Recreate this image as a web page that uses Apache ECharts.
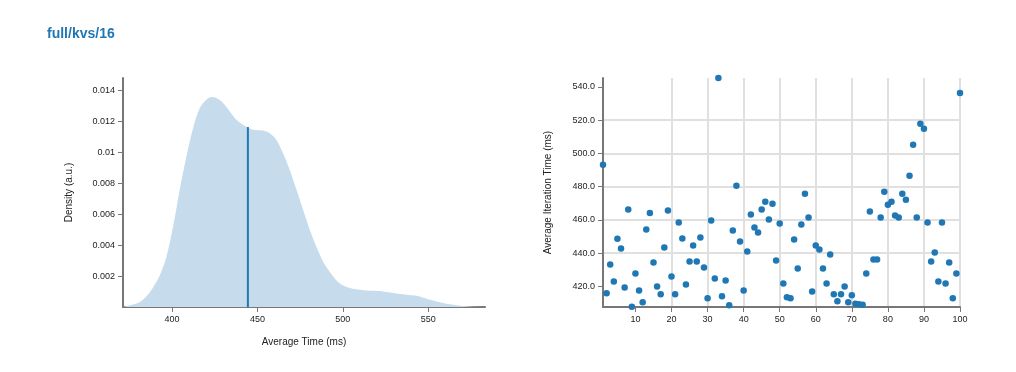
<!DOCTYPE html>
<html>
<head>
<meta charset="utf-8">
<script src="https://cdn.jsdelivr.net/npm/echarts@6/dist/echarts.min.js"></script>
<style>
html,body{margin:0;padding:0;background:#fff;}
#chart{width:1016px;height:372px;}
</style>
</head>
<body>
<div id="chart"></div>
<script>
// ---- Data ----
const titleText = 'full/kvs/16';

// Density curve (x: average time in ms, y: density)
const densityX = [372, 381, 387, 392.8, 396.7, 400.6, 404.5, 408.4, 412.3, 416.2, 420.1, 423, 426, 429.9, 433.8, 437.7, 441.6, 444.3, 447.5, 453.3, 457.2, 461.1, 465, 468.9, 472.9, 476.8, 480.7, 484.6, 488.5, 492.4, 496.3, 500.2, 506, 513.9, 521.7, 529.5, 537.3, 543.2, 549, 554.9, 560.7, 568.6, 576.4, 583.2];
const densityY = [0.00003, 0.00031, 0.00096, 0.00204, 0.00323, 0.00518, 0.00756, 0.00972, 0.01156, 0.01285, 0.01339, 0.01357, 0.0135, 0.01318, 0.01264, 0.0121, 0.01177, 0.01162, 0.01145, 0.0114, 0.01123, 0.0108, 0.00993, 0.00885, 0.00756, 0.00626, 0.00496, 0.00388, 0.00291, 0.00226, 0.00172, 0.00139, 0.00118, 0.00107, 0.00103, 0.0009, 0.00079, 0.00072, 0.00053, 0.00036, 0.00021, 0.00008, 0.00002, 0.00001];
const meanTime = 444.4;
const meanDensity = 0.01163;
const densityXRange = [371.3, 583.2];
const densityYRange = [0, 0.0148];
const densityXTicks = [400, 450, 500, 550];
const densityYTicks = [0.002, 0.004, 0.006, 0.008, 0.01, 0.012, 0.014];

// Scatter: iteration index vs average iteration time (ms)
const iterations = Array.from({length: 100}, (_, i) => i + 1);
const iterTimes = [
  493.2, 415.8, 433.2, 423.0, 448.6, 442.8, 419.4, 466.2, 407.8, 427.8,
  417.6, 410.4, 454.2, 464.2, 434.4, 420.0, 415.2, 443.4, 465.6, 426.0,
  415.2, 458.4, 448.8, 421.2, 435.0, 444.6, 435.0, 449.4, 431.4, 412.8,
  459.6, 424.8, 545.4, 414.0, 423.6, 408.6, 453.6, 480.6, 447.0, 417.6,
  441.0, 463.2, 455.4, 452.4, 466.2, 471.0, 460.2, 469.8, 435.6, 457.8,
  421.8, 413.4, 412.8, 448.2, 430.8, 457.2, 475.8, 461.4, 417.0, 444.6,
  442.2, 430.8, 421.8, 439.2, 415.2, 411.0, 415.2, 420.0, 410.4, 414.6,
  409.6, 409.2, 409.0, 427.8, 465.0, 436.2, 436.2, 461.4, 477.0, 469.2,
  471.0, 462.6, 461.4, 475.8, 472.2, 486.6, 505.2, 461.4, 517.8, 514.8,
  458.4, 435.0, 440.4, 423.0, 458.4, 421.8, 434.4, 412.8, 427.8, 536.4
];
const scatterXTicks = [10, 20, 30, 40, 50, 60, 70, 80, 90, 100];
const scatterYTicks = [420, 440, 460, 480, 500, 520, 540];

// ---- Build ----
const densityData = densityX.map((x, i) => [x, densityY[i]]);
const meanData = [[meanTime, 0], [meanTime, meanDensity]];
const scatterData = iterations.map((x, i) => [x, iterTimes[i]]);
const yMin = Math.min(...iterTimes) - 0.2;
const yMax = Math.max(...iterTimes);

const FONT = 'Liberation Sans, Arial, Helvetica, sans-serif';
const AXIS_COLOR = '#777';
const LABEL_COLOR = '#222';

function axisBase() {
  return {
    axisLine: {show: true, onZero: false, lineStyle: {color: AXIS_COLOR, width: 2}},
    axisTick: {show: true, length: 5, lineStyle: {color: AXIS_COLOR, width: 1}},
    axisLabel: {color: LABEL_COLOR, fontSize: 9, fontFamily: FONT, margin: 7},
    nameTextStyle: {color: LABEL_COLOR, fontSize: 10, fontFamily: FONT}
  };
}

const chart = echarts.init(document.getElementById('chart'), null, {renderer: 'canvas'});
chart.setOption({
  animation: false,
  backgroundColor: '#fff',
  title: {
    text: titleText, left: 42, top: 22,
    textStyle: {color: '#1f78b4', fontSize: 14, fontWeight: 'bold', fontFamily: FONT}
  },
  grid: [
    {left: 123, right: 531, top: 78, bottom: 65},
    {left: 603, right: 56, top: 78, bottom: 65}
  ],
  xAxis: [
    Object.assign(axisBase(), {
      gridIndex: 0, type: 'value', min: densityXRange[0], max: densityXRange[1],
      name: 'Average Time (ms)', nameLocation: 'middle', nameGap: 30,
      splitLine: {show: false},
      axisTick: {show: true, length: 5, customValues: densityXTicks, lineStyle: {color: AXIS_COLOR, width: 1}},
      axisLabel: {color: LABEL_COLOR, fontSize: 9, fontFamily: FONT, margin: 8, customValues: densityXTicks}
    }),
    Object.assign(axisBase(), {
      gridIndex: 1, type: 'value', min: 1, max: 100, splitNumber: 10,
      splitLine: {show: true, showMinLine: false, showMaxLine: true, lineStyle: {color: '#e0e0e0', width: 2}},
      axisTick: {show: true, length: 5, customValues: scatterXTicks, lineStyle: {color: AXIS_COLOR, width: 1}},
      axisLabel: {color: LABEL_COLOR, fontSize: 9, fontFamily: FONT, margin: 8, customValues: scatterXTicks}
    })
  ],
  yAxis: [
    Object.assign(axisBase(), {
      gridIndex: 0, type: 'value', min: densityYRange[0], max: densityYRange[1],
      name: 'Density (a.u.)', nameLocation: 'middle', nameGap: 49, nameRotate: 90,
      splitLine: {show: false},
      axisTick: {show: true, length: 5, customValues: densityYTicks, lineStyle: {color: AXIS_COLOR, width: 1}},
      axisLabel: {color: LABEL_COLOR, fontSize: 9, fontFamily: FONT, margin: 8, customValues: densityYTicks,
        formatter: v => String(Number(v.toFixed(3)))}
    }),
    Object.assign(axisBase(), {
      gridIndex: 1, type: 'value', min: yMin, max: yMax, splitNumber: 7,
      name: 'Average Iteration Time (ms)', nameLocation: 'middle', nameGap: 50, nameRotate: 90,
      splitLine: {show: true, showMinLine: false, showMaxLine: false, lineStyle: {color: '#e0e0e0', width: 2}},
      axisTick: {show: true, length: 5, customValues: scatterYTicks, lineStyle: {color: AXIS_COLOR, width: 1}},
      axisLabel: {color: LABEL_COLOR, fontSize: 9, fontFamily: FONT, margin: 8, customValues: scatterYTicks,
        formatter: v => v.toFixed(1)}
    })
  ],
  series: [
    {
      type: 'line', xAxisIndex: 0, yAxisIndex: 0, data: densityData,
      smooth: 0.3, showSymbol: false, symbol: 'none',
      lineStyle: {width: 0, color: '#c6dcec'},
      areaStyle: {color: '#c6dcec', opacity: 1},
      z: 1
    },
    {
      type: 'line', xAxisIndex: 0, yAxisIndex: 0, data: meanData,
      showSymbol: false, symbol: 'none',
      lineStyle: {width: 2, color: '#1f77b4'},
      z: 3
    },
    {
      type: 'scatter', xAxisIndex: 1, yAxisIndex: 1, data: scatterData,
      symbolSize: 6.5, itemStyle: {color: '#1f77b4', opacity: 1},
      z: 3
    }
  ]
});
</script>
</body>
</html>
